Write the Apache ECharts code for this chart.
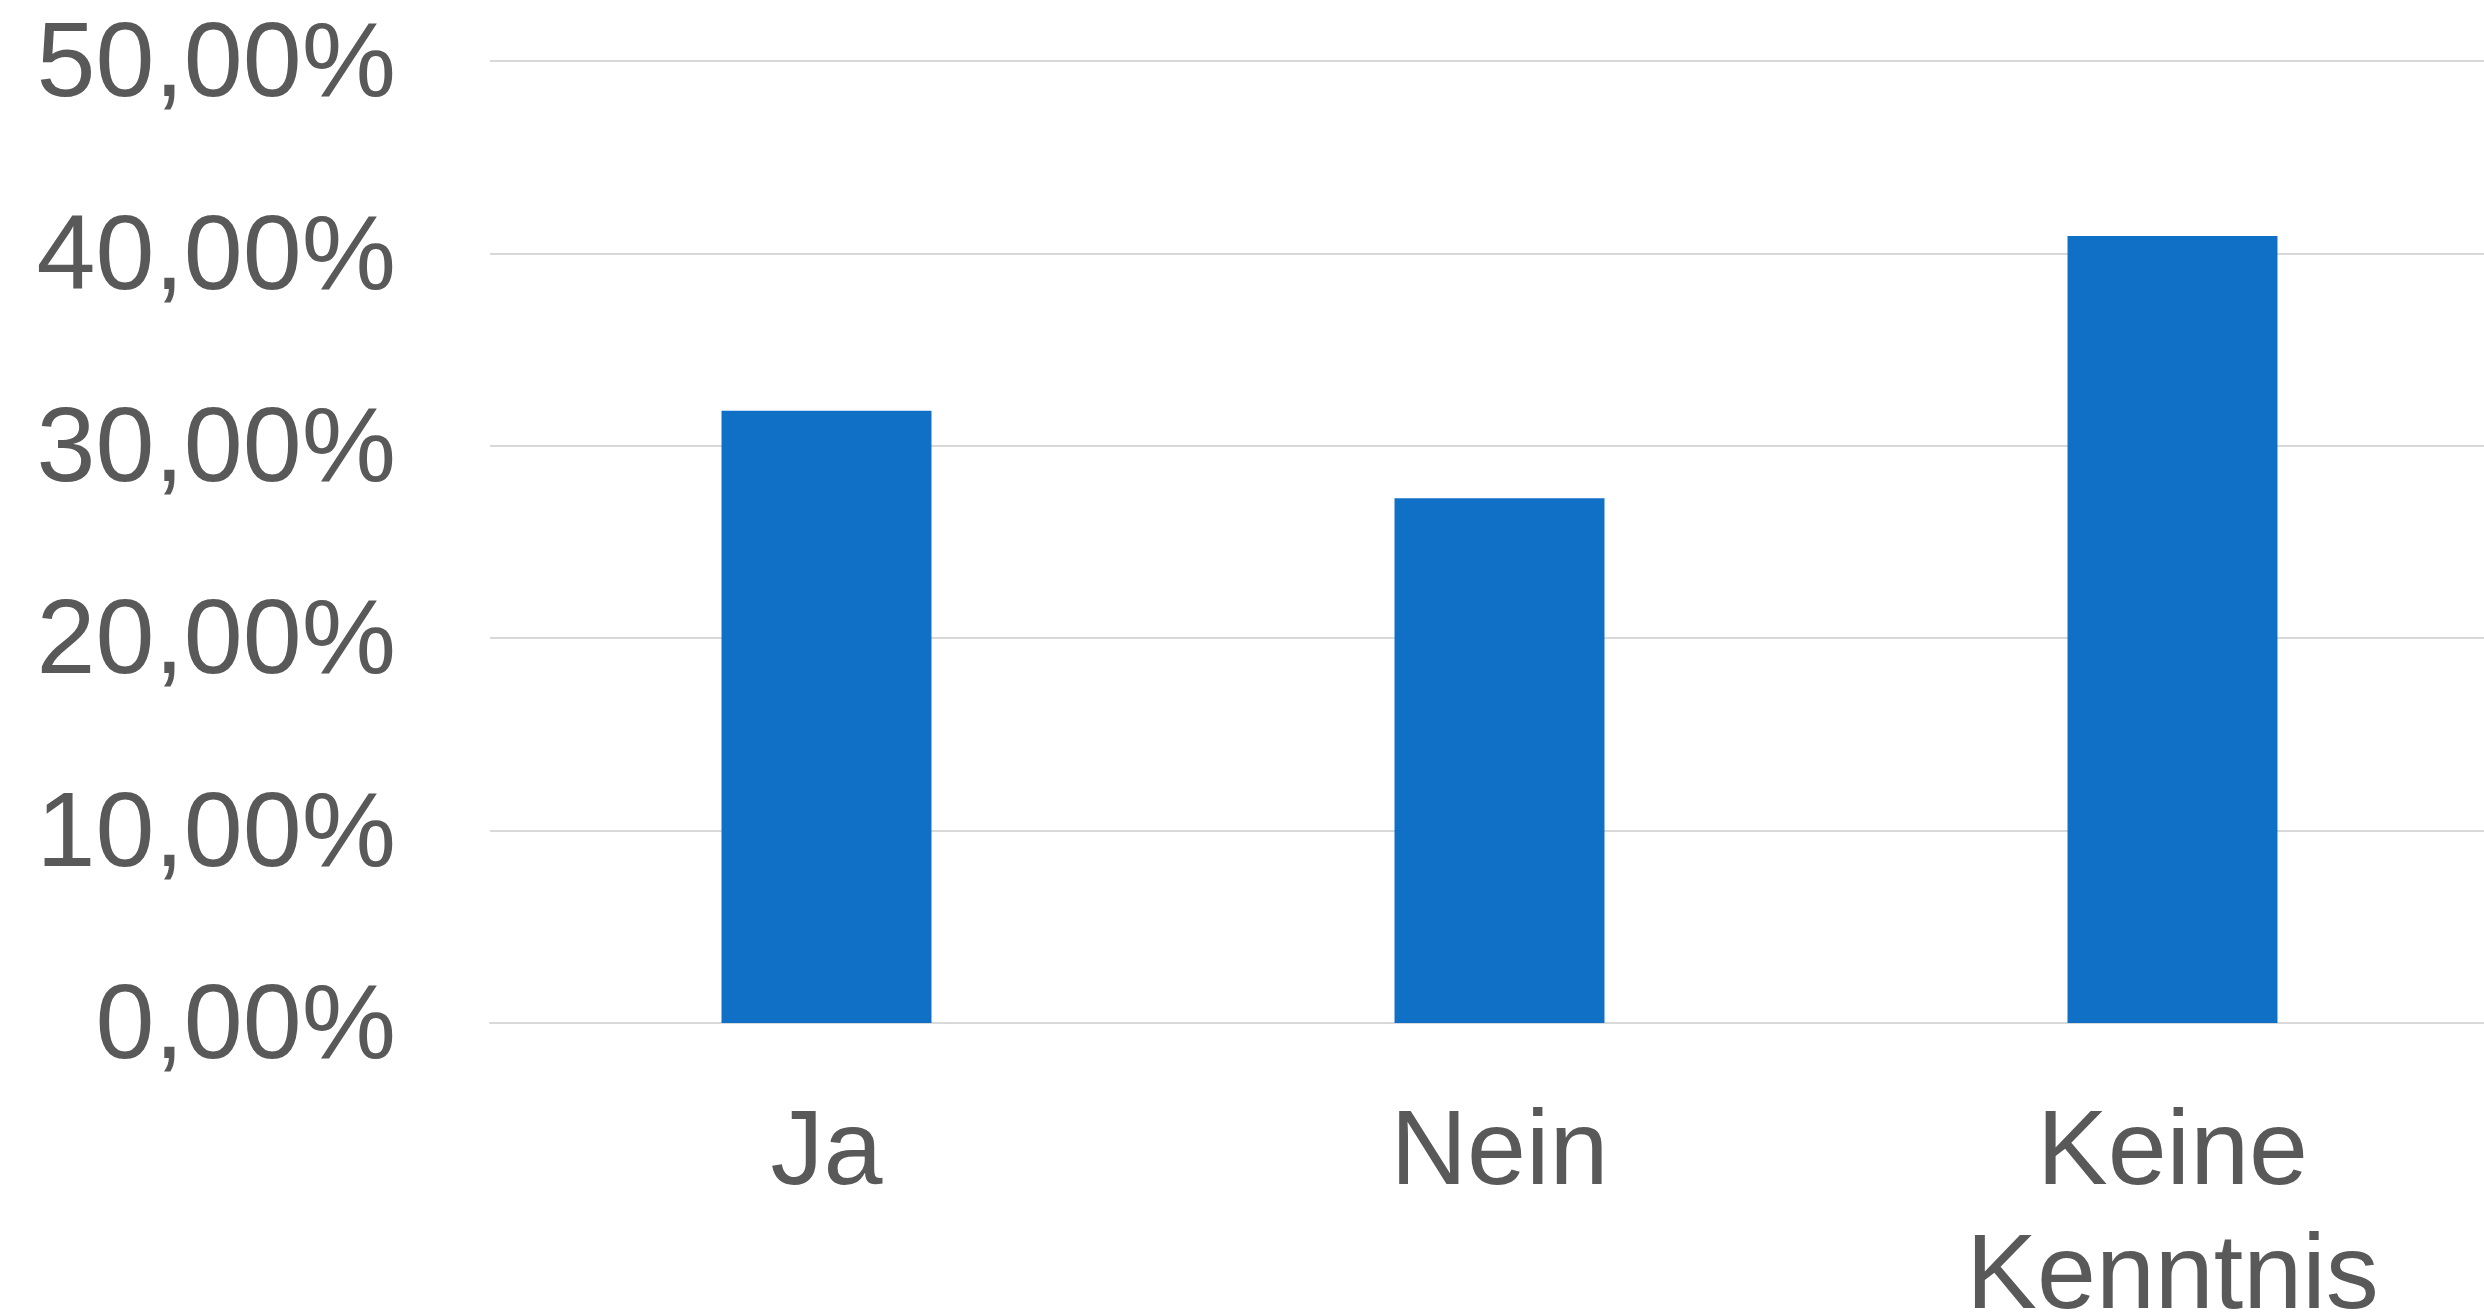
<!DOCTYPE html>
<html>
<head>
<meta charset="utf-8">
<script src="https://cdn.jsdelivr.net/npm/echarts@6/dist/echarts.min.js"></script>
<style>
html,body{margin:0;padding:0;background:#fff;}
#c{width:2484px;height:1314px;}
</style>
</head>
<body>
<div id="c"></div>
<script>
const categories = ["Ja", "Nein", "Keine Kenntnis"];
const values = [31.82, 27.27, 40.91];
const yTicks = { min: 0, max: 50, interval: 10 };

const chart = echarts.init(document.getElementById('c'), null, { renderer: 'canvas' });
chart.setOption({
  animation: false,
  backgroundColor: '#ffffff',
  grid: { left: 490, right: -25, top: 61, bottom: 291, containLabel: false, outerBoundsMode: 'none' },
  xAxis: {
    type: 'category',
    data: categories,
    axisLine: { show: true, lineStyle: { color: '#d9d9d9', width: 2 } },
    axisTick: { show: false },
    axisLabel: {
      color: '#595959',
      fontFamily: 'Liberation Sans, Arial, sans-serif',
      fontSize: 106,
      lineHeight: 124,
      margin: 70,
      interval: 0,
      formatter: v => v.replace(' ', '\n')
    }
  },
  yAxis: {
    type: 'value',
    min: yTicks.min,
    max: yTicks.max,
    interval: yTicks.interval,
    axisLine: { show: false },
    axisTick: { show: false },
    splitLine: { show: true, lineStyle: { color: '#d9d9d9', width: 2 } },
    axisLabel: {
      color: '#595959',
      fontFamily: 'Liberation Sans, Arial, sans-serif',
      fontSize: 106,
      margin: 94,
      formatter: v => '{t|' + v.toFixed(2).replace('.', ',') + '%}',
      rich: {
        t: {
          color: '#595959',
          fontFamily: 'Liberation Sans, Arial, sans-serif',
          fontSize: 106,
          padding: [12, 0, 0, 0]
        }
      }
    }
  },
  series: [{
    type: 'bar',
    data: values,
    barWidth: '31.2%',
    itemStyle: { color: '#1070c6' }
  }]
});
</script>
</body>
</html>
